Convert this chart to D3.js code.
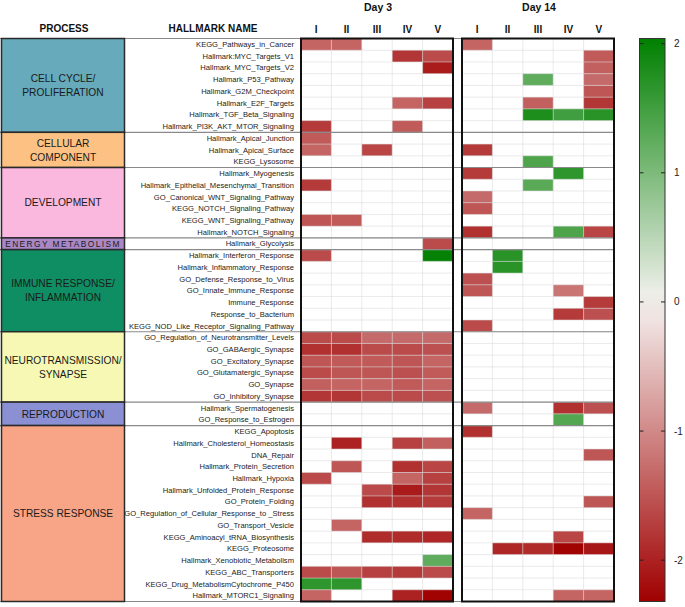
<!DOCTYPE html>
<html><head><meta charset="utf-8">
<script src="https://cdn.jsdelivr.net/npm/d3@7"></script>
<style>
html,body{margin:0;padding:0;background:#fff;}
svg{display:block;font-family:"Liberation Sans",Arial,sans-serif;}
</style></head>
<body>
<svg id="chart" width="685" height="607"></svg>
<script>
// ---------- DATA ----------
const processNames = [
  ["CELL CYCLE/","PROLIFERATION"],
  ["CELLULAR","COMPONENT"],
  ["DEVELOPMENT"],
  ["ENERGY METABOLISM"],
  ["IMMUNE RESPONSE/","INFLAMMATION"],
  ["NEUROTRANSMISSION/","SYNAPSE"],
  ["REPRODUCTION"],
  ["STRESS RESPONSE"]
];
const processCounts = [8,3,6,1,7,6,2,15];
const processColors = ["#66aabb","#fdc283","#fbb8de","#aa88c6","#0f8e63","#f6f8b3","#8b8fd3","#f7a487"];

const hallmarks = [
  "KEGG_Pathways_in_Cancer","Hallmark:MYC_Targets_V1","Hallmark_MYC_Targets_V2","Hallmark_P53_Pathway",
  "Hallmark_G2M_Checkpoint","Hallmark_E2F_Targets","Hallmark_TGF_Beta_Signaling","Hallmark_PI3K_AKT_MTOR_Signaling",
  "Hallmark_Apical_Junction","Hallmark_Apical_Surface","KEGG_Lysosome",
  "Hallmark_Myogenesis","Hallmark_Epithelial_Mesenchymal_Transition","GO_Canonical_WNT_Signaling_Pathway",
  "KEGG_NOTCH_Signaling_Pathway","KEGG_WNT_Signaling_Pathway","Hallmark_NOTCH_Signaling",
  "Hallmark_Glycolysis",
  "Hallmark_Interferon_Response","Hallmark_Inflammatory_Response","GO_Defense_Response_to_Virus",
  "GO_Innate_Immune_Response","Immune_Response","Response_to_Bacterium","KEGG_NOD_Like_Receptor_Signaling_Pathway",
  "GO_Regulation_of_Neurotransmitter_Levels","GO_GABAergic_Synapse","GO_Excitatory_Synapse",
  "GO_Glutamatergic_Synapse","GO_Synapse","GO_Inhibitory_Synapse",
  "Hallmark_Spermatogenesis","GO_Response_to_Estrogen",
  "KEGG_Apoptosis","Hallmark_Cholesterol_Homeostasis","DNA_Repair","Hallmark_Protein_Secretion",
  "Hallmark_Hypoxia","Hallmark_Unfolded_Protein_Response","GO_Protein_Folding",
  "GO_Regulation_of_Cellular_Response_to _Stress","GO_Transport_Vesicle","KEGG_Aminoacyl_tRNA_Biosynthesis",
  "KEGG_Proteosome","Hallmark_Xenobiotic_Metabolism","KEGG_ABC_Transporters",
  "KEGG_Drug_MetabolismCytochrome_P450","Hallmark_MTORC1_Signaling"
];

const columns = ["I","II","III","IV","V"];
const days = ["Day 3","Day 14"];
const _ = null;

const day3 = [
  [-1.35,-1.35,_,_,_],
  [_,_,_,-1.8,-1.6],
  [_,_,_,_,-2.05],
  [_,_,_,_,_],
  [_,_,_,_,_],
  [_,_,_,-1.35,-1.7],
  [_,_,_,_,_],
  [-1.75,_,_,-1.45,_],
  [-1.45,_,_,_,_],
  [-1.35,_,-1.65,_,_],
  [_,_,_,_,_],
  [_,_,_,_,_],
  [-1.75,_,_,_,_],
  [_,_,_,_,_],
  [_,_,_,_,_],
  [-1.5,-1.45,_,_,_],
  [_,_,_,_,_],
  [_,_,_,_,-1.6],
  [-1.6,_,_,_,2.0],
  [_,_,_,_,_],
  [_,_,_,_,_],
  [_,_,_,_,_],
  [_,_,_,_,_],
  [_,_,_,_,_],
  [_,_,_,_,_],
  [-1.6,-1.6,-1.3,-1.3,-1.3],
  [-1.85,-1.85,-1.6,-1.6,-1.55],
  [-1.5,-1.45,-1.45,-1.5,-1.35],
  [-1.6,-1.5,-1.5,-1.55,-1.45],
  [-1.4,-1.35,-1.35,-1.45,-1.35],
  [-1.8,-1.8,-1.6,-1.6,-1.55],
  [_,_,_,_,_],
  [_,_,_,_,_],
  [_,_,_,_,_],
  [_,-2.0,_,-1.7,-1.4],
  [_,_,_,_,_],
  [_,-1.5,_,-1.85,-1.65],
  [-1.6,_,_,-1.35,-1.7],
  [_,_,-1.6,-2.05,-1.8],
  [_,_,-1.85,-1.85,-1.75],
  [_,_,_,_,_],
  [_,-1.35,_,_,_],
  [_,_,-1.9,-1.9,-1.95],
  [_,_,_,_,_],
  [_,_,_,_,1.25],
  [-1.6,-1.5,-1.7,-1.75,-1.6],
  [1.65,1.65,_,_,_],
  [-1.35,_,_,-2.0,-2.3]
];

const day14 = [
  [-1.35,_,_,_,_],
  [_,_,_,_,-1.45],
  [_,_,_,_,-1.4],
  [_,_,1.25,_,-1.3],
  [_,_,_,_,-1.5],
  [_,_,-1.4,_,-1.8],
  [_,_,1.8,1.5,1.7],
  [_,_,_,_,_],
  [_,_,_,_,_],
  [-1.75,_,_,_,_],
  [_,_,1.4,_,_],
  [-1.75,_,_,1.65,_],
  [_,_,1.3,_,_],
  [-1.3,_,_,_,_],
  [-1.5,_,_,_,_],
  [_,_,_,_,_],
  [-1.85,_,_,1.4,-1.65],
  [_,_,_,_,_],
  [_,1.7,_,_,_],
  [_,1.7,_,_,_],
  [-1.55,_,_,_,_],
  [-1.5,_,_,-1.2,_],
  [_,_,_,_,-1.75],
  [_,_,_,-1.75,-1.55],
  [-1.6,_,_,_,_],
  [_,_,_,_,_],
  [_,_,_,_,_],
  [_,_,_,_,_],
  [_,_,_,_,_],
  [_,_,_,_,_],
  [_,_,_,_,_],
  [-1.3,_,_,-1.85,-1.55],
  [_,_,_,1.35,_],
  [-1.85,_,_,_,_],
  [_,_,_,_,_],
  [_,_,_,_,-1.5],
  [_,_,_,_,_],
  [_,_,_,_,_],
  [_,_,_,_,_],
  [_,_,_,_,-1.5],
  [-1.35,_,_,_,_],
  [_,_,_,_,_],
  [_,_,_,-1.65,_],
  [_,-1.95,-1.9,-2.3,-2.1],
  [_,_,_,_,_],
  [_,_,_,_,_],
  [_,_,_,_,_],
  [_,_,_,-1.35,-1.35]
];

const colorTicks = [2,1,0,-1,-2];
const colorDomain = [-2.32, 0, 2.04];
const colorRange = ["#a00000","#f5f2f0","#008000"];

// ---------- DRAW ----------
(function draw() {
const svg = d3.select("#chart");
const yTop = 38.5, yBot = 601.5;
const y = d3.scaleBand().domain(d3.range(hallmarks.length)).range([yTop, yBot]);
const color = d3.scaleLinear().domain(colorDomain).range(colorRange);
const xs = [
  d3.scaleBand().domain(columns).range([301, 453]),
  d3.scaleBand().domain(columns).range([462, 614])
];
const datasets = [day3, day14];

const starts = [];
let acc = 0;
processCounts.forEach(c => { starts.push(acc); acc += c; });

// cells
datasets.forEach((data, di) => {
  const x = xs[di];
  const g = svg.append("g");
  const cells = [];
  data.forEach((row, ri) => row.forEach((v, ci) => { if (v !== null) cells.push({ri, ci, v}); }));
  g.selectAll("rect.cell").data(cells).join("rect")
    .attr("x", d => x(columns[d.ci])).attr("y", d => y(d.ri))
    .attr("width", x.bandwidth()).attr("height", y.bandwidth())
    .attr("fill", d => color(d.v));
  g.selectAll("line.h").data(d3.range(1, hallmarks.length)).join("line")
    .attr("x1", x.range()[0]).attr("x2", x.range()[1])
    .attr("y1", d => y(d)).attr("y2", d => y(d))
    .attr("stroke", "#d8d8d8").attr("stroke-opacity", 0.55).attr("stroke-width", 1);
  g.selectAll("line.v").data(columns.slice(1)).join("line")
    .attr("y1", yTop).attr("y2", yBot)
    .attr("x1", d => x(d)).attr("x2", d => x(d))
    .attr("stroke", "#d8d8d8").attr("stroke-opacity", 0.55).attr("stroke-width", 1);
});

// group separator lines
const sepIdx = starts.slice(1).concat([0, hallmarks.length]);
svg.append("g").selectAll("line").data(sepIdx).join("line")
  .attr("x1", 0).attr("x2", 614)
  .attr("y1", d => d === hallmarks.length ? yBot : y(d))
  .attr("y2", d => d === hallmarks.length ? yBot : y(d))
  .attr("stroke", "#8a8a8a").attr("stroke-width", 1.2);

// heatmap frames
xs.forEach((x, i) => {
  svg.append("rect")
    .attr("x", x.range()[0]).attr("y", yTop)
    .attr("width", x.range()[1] - x.range()[0]).attr("height", yBot - yTop)
    .attr("fill", "none").attr("stroke", "#111").attr("stroke-width", 2);
  svg.append("g").selectAll("text").data(columns).join("text")
    .attr("x", d => x(d) + x.bandwidth() / 2).attr("y", 33)
    .attr("text-anchor", "middle").attr("font-size", 10).attr("font-weight", "bold")
    .attr("fill", "#111").text(d => d);
  svg.append("text")
    .attr("x", (x.range()[0] + x.range()[1]) / 2 + 1).attr("y", 11)
    .attr("text-anchor", "middle").attr("font-size", 10.5).attr("font-weight", "bold")
    .attr("fill", "#111").text(days[i]);
});

// process boxes
const pg = svg.append("g");
processCounts.forEach((c, i) => {
  const y0 = y(starts[i]), y1 = y(starts[i] + c - 1) + y.bandwidth();
  pg.append("rect").attr("x", 1.5).attr("y", y0).attr("width", 123).attr("height", y1 - y0)
    .attr("fill", processColors[i]).attr("stroke", "#2a2a2a").attr("stroke-width", 1.5);
  const lines = processNames[i];
  const cyy = (y0 + y1) / 2;
  const single = c === 1;
  lines.forEach((t, li) => {
    pg.append("text")
      .attr("x", 63).attr("y", cyy + (li - (lines.length - 1) / 2) * 14)
      .attr("dy", "0.36em").attr("text-anchor", "middle")
      .attr("font-size", single ? 8.4 : 10.2)
      .attr("letter-spacing", single ? 1.4 : 0)
      .attr("fill", "#1a1a1a").text(t);
  });
});

// hallmark names
svg.append("g").selectAll("text").data(hallmarks).join("text")
  .attr("x", 294).attr("y", (d, i) => y(i) + y.bandwidth() / 2)
  .attr("dy", "0.35em").attr("text-anchor", "end")
  .attr("font-size", 7.6).attr("fill", "#222").text(d => d);

// headers
svg.append("text").attr("x", 64).attr("y", 32).attr("text-anchor", "middle")
  .attr("font-size", 10).attr("font-weight", "bold").attr("fill", "#111").text("PROCESS");
svg.append("text").attr("x", 213).attr("y", 32).attr("text-anchor", "middle")
  .attr("font-size", 10).attr("font-weight", "bold").attr("fill", "#111").text("HALLMARK NAME");

// colorbar
const cbX = 639.5, cbW = 25.5;
const cScale = d3.scaleLinear().domain([colorDomain[0], colorDomain[2]]).range([yBot, yTop]);
const defs = svg.append("defs");
const grad = defs.append("linearGradient").attr("id", "cbgrad")
  .attr("x1", 0).attr("y1", 1).attr("x2", 0).attr("y2", 0);
d3.range(0, 1.0001, 0.05).forEach(t => {
  const v = colorDomain[0] + t * (colorDomain[2] - colorDomain[0]);
  grad.append("stop").attr("offset", t).attr("stop-color", color(v));
});
svg.append("rect").attr("x", cbX).attr("y", yTop).attr("width", cbW).attr("height", yBot - yTop)
  .attr("fill", "url(#cbgrad)").attr("stroke", "#333").attr("stroke-width", 1);
const tg = svg.append("g").selectAll("g").data(colorTicks).join("g")
  .attr("transform", d => `translate(0,${cScale(d)})`);
tg.append("line").attr("x1", cbX).attr("x2", cbX + 4).attr("stroke", "#222");
tg.append("line").attr("x1", cbX + cbW - 4).attr("x2", cbX + cbW).attr("stroke", "#222");
tg.append("text").attr("x", 674).attr("dy", "0.35em").attr("font-size", 10)
  .attr("fill", "#222").text(d => d);
})();
</script>
</body></html>
